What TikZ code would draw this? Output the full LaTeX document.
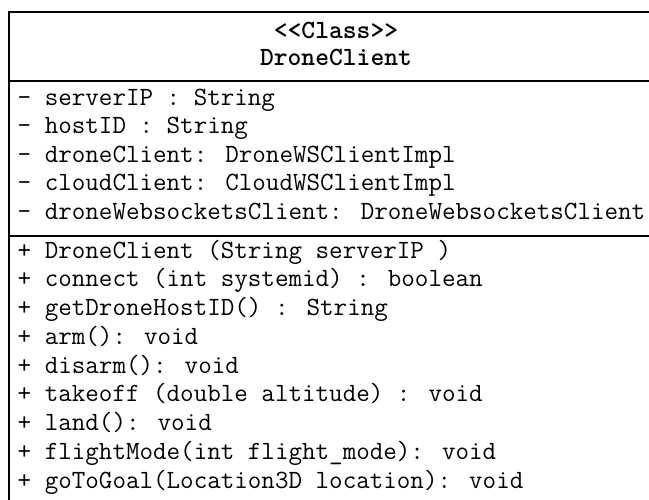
\documentclass[tikz,border=0pt]{standalone}
\usepackage{fontspec}
\begin{document}
\begin{tikzpicture}[x=1pt,y=-1pt,
  frame/.style={line width=1.8pt, black},
  member/.style={anchor=mid west, inner sep=0pt, font=\ttfamily\fontsize{26.3}{30}\selectfont},
  header/.style={anchor=mid, inner sep=0pt, font=\ttfamily\bfseries\fontsize{26.3}{30}\selectfont}]
\useasboundingbox (0,0) rectangle (649,499);
\fill[white] (0,0) rectangle (649,499);
\clip (0,0) rectangle (649,499);
\coordinate (tl) at (9,12);
\coordinate (tr) at (663,12);
\coordinate (bl) at (9,530);
\coordinate (br) at (663,530);
\coordinate (h1) at (9,81);
\coordinate (h2) at (663,81);
\coordinate (s1) at (9,236);
\coordinate (s2) at (663,236);
\draw[frame] (bl) -- (tl) -- (tr) -- (br);
\draw[frame] (h1) -- (h2);
\draw[frame] (s1) -- (s2);
% header
\node[header] (stereo) at (336,36) {<{}<Class>{}>};
\node[header] (cname) at (336,63) {DroneClient};
% attributes
\node[member] (a1) at (17.5,103) {- serverIP : String};
\node[member] (a2) at (17.5,131.5) {- hostID : String};
\node[member] (a3) at (17.5,160) {- droneClient: DroneWSClientImpl};
\node[member] (a4) at (17.5,188.5) {- cloudClient: CloudWSClientImpl};
\node[member] (a5) at (17.5,217) {- droneWebsocketsClient: DroneWebsocketsClient};
% methods
\node[member] (m1) at (17.5,256) {+ DroneClient (String serverIP )};
\node[member] (m2) at (17.5,284.75) {+ connect (int systemid) : boolean};
\node[member] (m3) at (17.5,313.5) {+ getDroneHostID() : String};
\node[member] (m4) at (17.5,342.25) {+ arm(): void};
\node[member] (m5) at (17.5,371) {+ disarm(): void};
\node[member] (m6) at (17.5,399.75) {+ takeoff (double altitude) : void};
\node[member] (m7) at (17.5,428.5) {+ land(): void};
\node[member] (m8) at (17.5,457.25) {+ flightMode(int flight\_mode): void};
\node[member] (m9) at (17.5,486) {+ goToGoal(Location3D location): void};
\end{tikzpicture}
\end{document}
